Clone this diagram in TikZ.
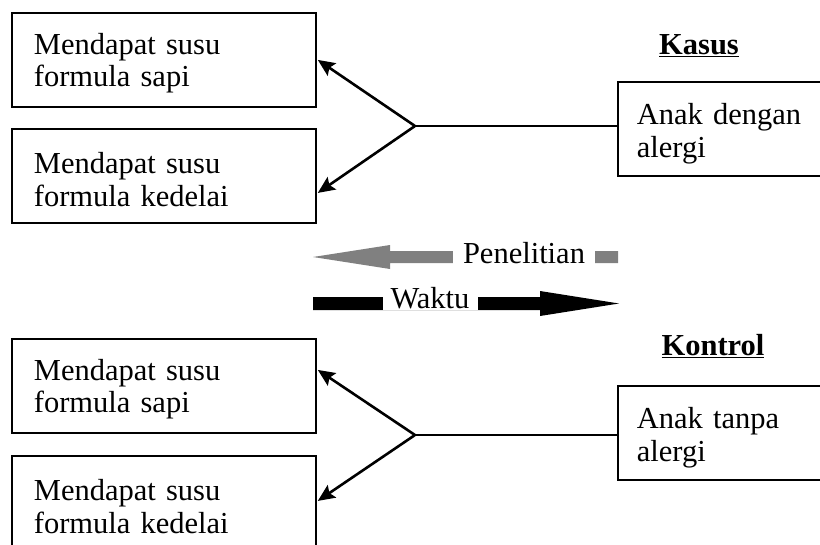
\documentclass[tikz,border=0pt]{standalone}
\usepackage{fontspec}
\setmainfont{Liberation Serif}
\usetikzlibrary{arrows.meta,calc}
\definecolor{bandgray}{HTML}{808080}
% taller first line, nudging the box text slightly downwards
\newcommand{\firstlinegap}{\rule{0pt}{28pt}}
\tikzset{
  leftbox/.style={draw, line width=1.8pt, anchor=north west, minimum width=304pt,
    minimum height=94pt, text width=260pt, inner xsep=22pt, align=left,
    font=\fontsize{30.5}{32.5}\selectfont},
  rightbox/.style={draw, line width=1.8pt, anchor=north west, minimum width=220pt,
    minimum height=94pt, text width=182pt, inner xsep=19pt, align=left,
    font=\fontsize{30.5}{33}\selectfont},
  heading/.style={font=\fontsize{30.5}{33}\selectfont\bfseries},
  link/.style={line width=2.6pt},
  pointer/.style={line width=2.6pt, -{Stealth[length=17pt,width=15pt,inset=3pt]}},
  bandlabel/.style={fill=white, inner sep=1pt, font=\fontsize{30.5}{33}\selectfont}
}
\begin{document}
\begin{tikzpicture}[x=1pt,y=-1pt]
\useasboundingbox (0,0) rectangle (820,544);

% ---- case group ----
\node[leftbox] (cowA) at (11,12) {\firstlinegap Mendapat susu\\formula sapi};
\node[leftbox] (soyA) at (11,128) {\firstlinegap Mendapat susu\\formula kedelai};
\node[rightbox] (caseBox) at (617,81) {\rule{0pt}{30pt}Anak dengan\\alergi};
\node[heading] (kasus) at (699,46) {\underline{Kasus}};
\coordinate (forkA) at (415,126);
\draw[link] (caseBox.west |- forkA) -- (forkA);
\draw[pointer] (forkA) -- ($(cowA.east)+(1,0)$);
\draw[pointer] (forkA) -- ($(soyA.east)+(1,17)$);

% ---- time direction bands ----
\fill[bandgray] (313,257) -- (390,245) -- (390,251) -- (618,251)
  -- (618,263) -- (390,263) -- (390,269) -- cycle;
\node[bandlabel, minimum width=142pt] (research) at (524,253) {Penelitian};
\fill[black] (313,297) -- (540,297) -- (540,291) -- (619,303.5)
  -- (540,316) -- (540,310) -- (313,310) -- cycle;
\node[bandlabel, minimum width=95pt] (time) at (430,298) {Waktu};

% ---- control group ----
\node[leftbox] (cowB) at (11,338) {\firstlinegap Mendapat susu\\formula sapi};
\node[leftbox] (soyB) at (11,455) {\firstlinegap Mendapat susu\\formula kedelai};
\node[rightbox] (ctrlBox) at (617,385) {\rule{0pt}{30pt}Anak tanpa\\alergi};
\node[heading] (kontrol) at (713,346) {\underline{Kontrol}};
\coordinate (forkB) at (415,435);
\draw[link] (ctrlBox.west |- forkB) -- (forkB);
\draw[pointer] (forkB) -- ($(cowB.east)+(1,-16)$);
\draw[pointer] (forkB) -- ($(soyB.east)+(1,-2)$);
\end{tikzpicture}
\end{document}
